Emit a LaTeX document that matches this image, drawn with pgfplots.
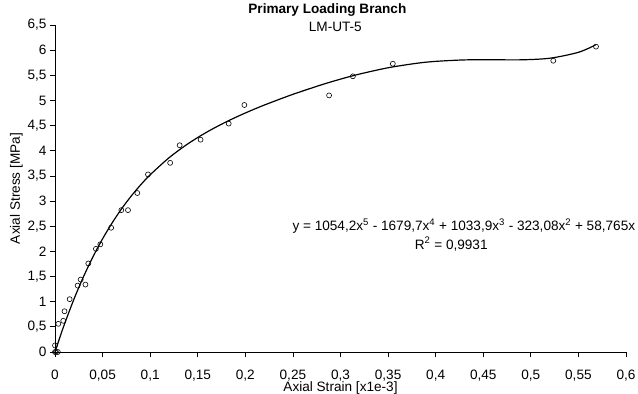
\documentclass[border=0pt]{standalone}
\usepackage{fontspec}
\setmainfont{Liberation Sans}
\usepackage{pgfplots}
\pgfplotsset{compat=1.18}
\newcommand\sz{\fontsize{13.6}{16}\selectfont}
\begin{document}
\begin{tikzpicture}[x=1pt,y=1pt]
\begin{axis}[
  at={(55pt,42pt)}, anchor=south west,
  scale only axis, width=571pt, height=327pt,
  xmin=0, xmax=0.6, ymin=0, ymax=6.5,
  axis lines*=left,
  axis line style={line width=0.8pt},
  xtick={0,0.05,...,0.61},
  ytick={0,0.5,...,6.6},
  xticklabels={0,{0,05},{0,1},{0,15},{0,2},{0,25},{0,3},{0,35},{0,4},{0,45},{0,5},{0,55},{0,6}},
  yticklabels={0,{0,5},1,{1,5},2,{2,5},3,{3,5},4,{4,5},5,{5,5},6,{6,5}},
  tick align=outside, major tick length=5pt,
  tick style={line width=0.8pt, black},
  tick label style={font=\sz},
  xticklabel style={yshift=-9pt},
  label style={font=\sz},
  xlabel={Axial Strain [x1e-3]},
  ylabel={Axial Stress [MPa]},
  xlabel style={yshift=6pt},
  ylabel style={yshift=-2pt},
  clip=false,
]
\addplot[only marks, mark=o, mark size=2.5pt, mark options={line width=0.6pt, black}] coordinates {
(0,0) (0.001,0) (0.003,0) (0,0.13)
(0.0035,0.56) (0.0087,0.62) (0.010,0.81) (0.0154,1.05)
(0.0238,1.32) (0.027,1.44) (0.032,1.34) (0.035,1.76)
(0.043,2.05) (0.0476,2.14) (0.059,2.47) (0.0697,2.82)
(0.0767,2.82) (0.0865,3.16) (0.0977,3.53) (0.121,3.76)
(0.131,4.11) (0.153,4.22) (0.1825,4.54) (0.199,4.91)
(0.288,5.10) (0.313,5.48) (0.355,5.73) (0.5236,5.79)
(0.5685,6.07)
};
\addplot[smooth, black, line width=1.2pt] coordinates {
(0,0) (0.005,0.286) (0.01,0.556) (0.02,1.054) (0.03,1.499) (0.04,1.896)
(0.05,2.250) (0.06,2.565) (0.07,2.847) (0.08,3.098) (0.09,3.322)
(0.10,3.522) (0.12,3.864) (0.14,4.143) (0.16,4.376) (0.18,4.576)
(0.20,4.751) (0.22,4.909) (0.25,5.122) (0.28,5.311) (0.30,5.424)
(0.32,5.525) (0.35,5.650) (0.38,5.739) (0.40,5.777) (0.43,5.806)
(0.46,5.809) (0.49,5.808) (0.52,5.840) (0.55,5.957) (0.568,6.104)
};
\node[font=\sz\bfseries] at (axis description cs:0.477,1.046) {Primary Loading Branch};
\node[font=\sz] at (axis description cs:0.491,0.994) {LM-UT-5};
\node[font=\sz] at (axis description cs:0.716,0.385) {y = 1054,2x\textsuperscript{5} - 1679,7x\textsuperscript{4} + 1033,9x\textsuperscript{3} - 323,08x\textsuperscript{2} + 58,765x};
\node[font=\sz] at (axis description cs:0.694,0.330) {R\textsuperscript{2} = 0,9931};
\end{axis}
\pgfresetboundingbox
\path (0,0) rectangle (638pt,394pt);
\end{tikzpicture}
\end{document}
